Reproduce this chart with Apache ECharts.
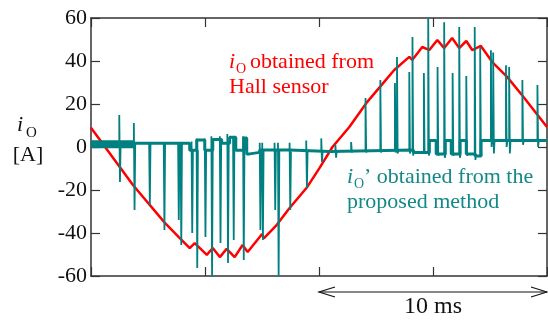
<!DOCTYPE html>
<html>
<head>
<meta charset="utf-8">
<style>
  html, body { margin: 0; padding: 0; background: #fff; }
  #chart { width: 548px; height: 321px; }
</style>
<script src="https://cdn.jsdelivr.net/npm/echarts@6/dist/echarts.min.js"></script>
</head>
<body>
<div id="chart"></div>
<script>
const X_MIN = 0
const X_MAX = 20
const X_TICK = 5
const Y_MIN = -60
const Y_MAX = 60
const Y_TICK = 20
const SPAN_START = 10
const SPAN_END = 20

// Hall sensor current (ms, A)
const hallT = [0, 1.84, 3.24, 3.85, 4.33, 4.55, 5.08, 5.34, 5.65, 5.95, 6.3, 6.65, 6.87, 7.4, 7.5, 7.58, 8.14, 8.71, 9.45, 10.02, 10.59,
  11.33, 12.08, 12.74, 13.3, 13.96, 14.09, 14.53, 14.84, 15.19, 15.49, 15.84, 16.15, 16.46, 16.72, 17.1, 17.6, 18.25, 18.9, 19.52, 20]
const hallV = [9, -17.7, -35.3, -41.9, -47, -44.7, -50.2, -47, -51.2, -47.4, -51.2, -45.6, -48.8, -41.9, -40.5, -42.5, -36.3, -28.4, -19.1, -9.8, 0,
  9.3, 20.5, 28.8, 35.8, 41.9, 40.5, 46.5, 45.1, 49.8, 46, 50.7, 46, 49.3, 45.1, 47, 39.5, 32.6, 24.2, 15.8, 9.3]

// proposed method: baseline level steps (ms, A)
const baseT = [0, 4.33, 4.64, 4.99, 5.34, 5.73, 6.08, 6.35, 6.7, 6.83, 6.96, 7.4, 8.71, 10.46, 14.14, 14.84, 15.14, 15.54, 15.8, 16.19, 16.46, 16.85, 17.11]
const baseV = [1.7, -1.5, 3.2, -1.5, 3.5, 1.7, 4.5, -1.5, 4.2, -3.2, -2.5, -1.4, -2.1, -1.4, -2.5, 3, -3.2, 3, -3.2, 3, -3.2, -4.2, 3]

// thick noisy band at the start
const bandT = [0, 1.9]
const bandV = [1.3, 1.3]

// spikes: time, upper extreme, lower extreme
const spikeT = [1.24, 1.88, 2.55, 3.19, 3.82, 3.93, 4.41, 4.63, 4.99, 5.28, 5.65, 5.98, 6.23, 6.67, 7.4, 7.51, 8.05, 8.2, 8.71, 9.44, 10.1, 10.72,
  11.41, 12.04, 12.69, 13.33, 13.42, 13.96, 14.1, 14.6, 14.79, 15.2, 15.49, 15.86, 16.15, 16.46, 16.83, 17.07, 17.54, 17.64, 18.2, 18.34, 18.92, 19.58]
const spikeHi = [14.9, 11.2, 2.6, 2.6, 2.6, 2.6, 2.6, 4, 4, 5, 5, 6, 5, 5, 2, 2, 2, 2, 2, 3, 4, 1,
  2.3, 22.8, 31.2, 29.8, 41.9, 34.9, 51.2, 34.4, 60, 37.2, 58, 34.4, 55.8, 33, 55.8, 46.5, 45, 44, 38, 37.2, 31.2, 28.8]
const spikeLo = [-16.3, -29.3, -27, -38.6, -34, -45.6, -40, -56.3, -41.9, -60, -44.7, -54, -43.3, -52.6, -38.6, -43.3, -29.3, -60, -29.3, -19, -7, -5,
  -2.5, -2.5, -2.5, -2.5, -3, -3, -4, -3, -4, -4, -5, -4, -5, -4, -6, -3, 0, -3, 0, -3, 1, 0]

const RED = '#ff0000'
const TEAL = '#008080'
const TEAL_TEXT = '#128888'
const AXIS_COLOR = '#333333'
const SERIF = 'Liberation Serif'

function baseAt(t) {
  let v = baseV[0]
  for (let i = 0; i < baseT.length; i++) {
    if (baseT[i] <= t) v = baseV[i]
  }
  return v
}

const hallData = hallT.map((t, i) => [t, hallV[i]])
const bandData = bandT.map((t, i) => [t, bandV[i]])

const baseData = []
baseT.forEach((t, i) => {
  if (i > 0) baseData.push([t, baseV[i - 1]])
  baseData.push([t, baseV[i]])
})
baseData.push([X_MAX, baseV[baseV.length - 1]])

const spikeData = []
spikeT.forEach((t, i) => {
  const b = baseAt(t)
  spikeData.push([t, b], [t, spikeHi[i]], [t + 0.03, spikeLo[i]], [t + 0.06, b], [t + 0.06, '-'])
})

const chart = echarts.init(document.getElementById('chart'))

const axisLine = { show: true, onZero: false, lineStyle: { color: AXIS_COLOR, width: 1.5 } }
const tick = { show: true, inside: true, length: 9, lineStyle: { color: AXIS_COLOR, width: 1.2 } }

function label(id, x, y, text, opts) {
  return {
    id: id,
    type: 'text',
    x: x,
    y: y,
    silent: true,
    style: Object.assign({
      text: text,
      fontFamily: SERIF,
      fontSize: 22,
      fontStyle: 'normal',
      fill: '#111',
      align: 'left',
      verticalAlign: 'middle',
    }, opts),
  }
}

chart.setOption({
  animation: false,
  textStyle: { fontFamily: SERIF },
  grid: { left: 91, right: 1, top: 18, bottom: 45 },
  xAxis: [
    {
      type: 'value', min: X_MIN, max: X_MAX, interval: X_TICK, position: 'bottom',
      axisLine: axisLine, axisTick: tick, axisLabel: { show: false }, splitLine: { show: false },
    },
    {
      type: 'value', min: X_MIN, max: X_MAX, interval: X_TICK, position: 'top',
      axisLine: axisLine, axisTick: tick, axisLabel: { show: false }, splitLine: { show: false },
    },
  ],
  yAxis: [
    {
      type: 'value', min: Y_MIN, max: Y_MAX, interval: Y_TICK, position: 'left',
      axisLine: axisLine, axisTick: tick, splitLine: { show: false },
      axisLabel: { color: '#111', fontFamily: SERIF, fontSize: 22, margin: 4 },
    },
    {
      type: 'value', min: Y_MIN, max: Y_MAX, interval: Y_TICK, position: 'right',
      axisLine: axisLine, axisTick: tick, axisLabel: { show: false }, splitLine: { show: false },
    },
  ],
  series: [
    {
      name: 'hall',
      type: 'line',
      data: hallData,
      showSymbol: false,
      symbol: 'none',
      z: 2,
      lineStyle: { color: RED, width: 2.5 },
    },
    {
      name: 'band',
      type: 'line',
      data: bandData,
      symbol: 'none',
      z: 3,
      lineStyle: { color: TEAL, width: 8 },
    },
    {
      name: 'baseline',
      type: 'line',
      data: baseData,
      symbol: 'none',
      z: 3,
      lineStyle: { color: TEAL, width: 3 },
    },
    {
      name: 'spikes',
      type: 'line',
      data: spikeData,
      symbol: 'none',
      connectNulls: false,
      z: 4,
      lineStyle: { color: TEAL, width: 1.8 },
    },
  ],
})

// "10 ms" span arrow below the axis, placed on the time scale
const x1 = chart.convertToPixel({ xAxisIndex: 0 }, SPAN_START)
const x2 = chart.convertToPixel({ xAxisIndex: 0 }, SPAN_END)
const ay = 292
const arrowStyle = { stroke: '#111', lineWidth: 1.2, fill: null }

chart.setOption({
  graphic: [
    label('yi', 17, 125.6, 'i', { fontStyle: 'italic' }),
    label('yo', 26, 133, 'O', { fontSize: 15 }),
    label('ya', 28, 155.6, '[A]', { align: 'center' }),

    label('ri', 229, 62.6, 'i', { fontStyle: 'italic', fill: RED }),
    label('ro', 236, 69.3, 'O', { fontSize: 14, fill: RED }),
    label('r1', 250, 62.6, 'obtained from', { fill: RED }),
    label('r2', 229, 87.6, 'Hall sensor', { fill: RED }),

    label('ti', 347, 177.6, 'i', { fontStyle: 'italic', fill: TEAL_TEXT }),
    label('to', 354, 184.3, 'O', { fontSize: 14, fill: TEAL_TEXT }),
    label('t1', 364, 177.6, '\u2019 obtained from the', { fill: TEAL_TEXT }),
    label('t2', 347, 202.6, 'proposed method', { fill: TEAL_TEXT }),

    { id: 'al', type: 'line', silent: true, shape: { x1: x1, y1: ay, x2: x2, y2: ay }, style: arrowStyle },
    { id: 'ah1', type: 'polyline', silent: true, shape: { points: [[x1 + 16, ay - 5], [x1, ay], [x1 + 16, ay + 5]] }, style: arrowStyle },
    { id: 'ah2', type: 'polyline', silent: true, shape: { points: [[x2 - 16, ay - 5], [x2, ay], [x2 - 16, ay + 5]] }, style: arrowStyle },
    label('ms', (x1 + x2) / 2, 307, '10 ms', { fontSize: 24, align: 'center' }),
  ],
})
</script>
</body>
</html>
